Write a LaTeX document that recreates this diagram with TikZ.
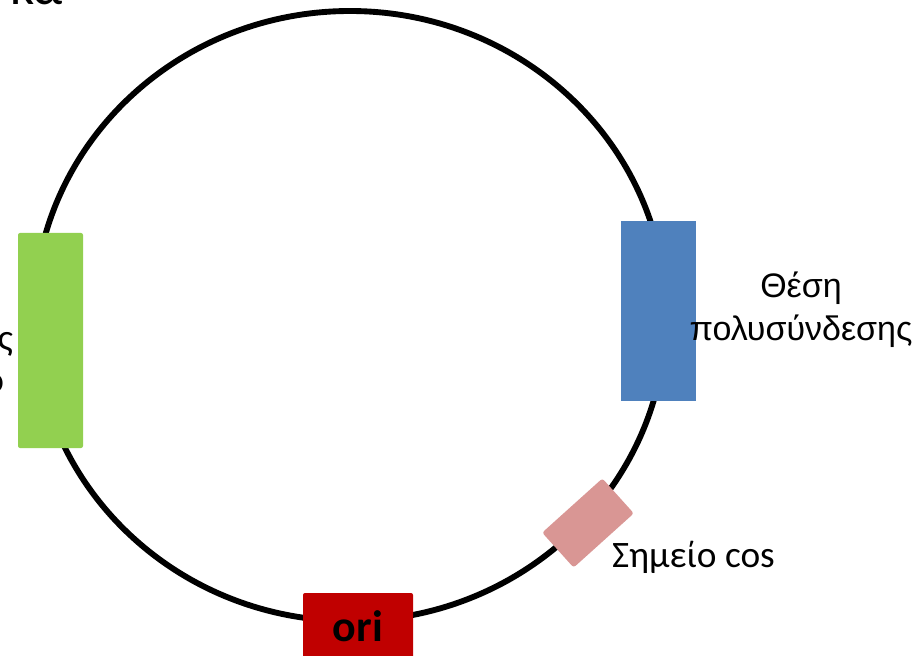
\documentclass[tikz,border=0pt]{standalone}
\usepackage{fontspec}
\setmainfont{Carlito}
\newfontfamily\arialgr{Liberation Sans}
\definecolor{cgreen}{HTML}{92D050}
\definecolor{cblue}{HTML}{4F81BD}
\definecolor{cpink}{HTML}{D99694}
\definecolor{cred}{HTML}{C00000}
\tikzset{
  part/.style={draw=none, inner sep=0pt, outer sep=0pt},
  lbl/.style={inner sep=0pt, outer sep=0pt, text=black},
}
\begin{document}
\begin{tikzpicture}[x=0.75pt,y=-0.75pt]
\useasboundingbox (0,0) rectangle (918,656);
\clip (0,0) rectangle (918,656);
\fill[white] (0,0) rectangle (918,656);
% plasmid ring
\draw[line width=4.4pt] (350,316) ellipse [x radius=316, y radius=305];
% elements on the ring
\node[part, fill=cgreen, rounded corners=1.5pt, minimum width=48.75pt, minimum height=161.25pt] (green) at (50.5,340.5) {};
\node[part, fill=cblue, minimum width=56.25pt, minimum height=135pt] (blue) at (658.5,311) {};
\node[part, fill=cpink, rounded corners=2pt, minimum width=60.75pt, minimum height=35.25pt, rotate=42] (cos) at (588,523) {};
\node[part, fill=cred, rounded corners=1.5pt, minimum width=82.5pt, minimum height=60pt] (ori) at (358,633) {};
% texts
\node[lbl, anchor=base] (oritext) at (358,641) {\fontsize{33}{36}\selectfont\bfseries ori};
\node[lbl, anchor=base] (poly1) at (801,297) {\arialgr\fontsize{25.5}{32}\selectfont Θέση};
\node[lbl, anchor=base] (poly2) at (801,340) {\arialgr\fontsize{25.5}{32}\selectfont πολυσύνδεσης};
\node[lbl, anchor=base west] (costext) at (612,567) {\fontsize{28}{32}\selectfont Σημείο cos};
\node[lbl, anchor=base east] (title) at (63,5) {\fontsize{40}{44}\selectfont κα};
\node[lbl, anchor=base east] (left1) at (13,350) {\fontsize{28}{32}\selectfont ς};
\node[lbl, anchor=base east] (left2) at (4,392) {\fontsize{28}{32}\selectfont ο};
\end{tikzpicture}
\end{document}
